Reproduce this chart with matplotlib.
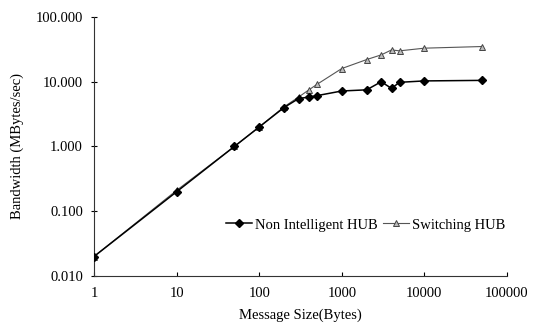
import matplotlib
matplotlib.use("Agg")
import matplotlib.pyplot as plt
from matplotlib.ticker import FixedLocator, FuncFormatter, NullLocator

msg_size = [1, 10, 50, 100, 200, 300, 400, 500, 1000, 2000, 3000, 4000, 5000, 10000, 50000]
non_intelligent = [0.02, 0.2, 1.0, 2.0, 4.0, 5.5, 5.8, 6.1, 7.2, 7.5, 10.0, 7.9, 9.8, 10.3, 10.5]
switching = [0.02, 0.21, 1.0, 2.0, 4.1, 5.8, 7.5, 9.1, 16, 22, 26, 31, 30, 33, 35]
x_ticks = [1, 10, 100, 1000, 10000, 100000]
y_ticks = [0.01, 0.1, 1, 10, 100]

plt.rcParams['font.family'] = ['Liberation Serif', 'DejaVu Serif']

fig = plt.figure(figsize=(5.39, 3.32), dpi=100)
ax = fig.add_axes([0.1744, 0.1687, 0.9406 - 0.1744, 0.9488 - 0.1687])

ax.plot(msg_size, non_intelligent, color='black', lw=1.1, marker='D', ms=4.5,
        mfc='black', mec='black', label='Non Intelligent HUB', zorder=3)
ax.plot(msg_size, switching, color='#555555', lw=0.8, ls='-', marker='^', ms=5,
        mfc='#bbbbbb', mec='#444444', mew=0.7, label='Switching HUB', zorder=2)

ax.set_xscale('log')
ax.set_yscale('log')
ax.set_xlim(1, 100000)
ax.set_ylim(0.01, 100)
ax.xaxis.set_major_locator(FixedLocator(x_ticks))
ax.yaxis.set_major_locator(FixedLocator(y_ticks))
ax.xaxis.set_minor_locator(NullLocator())
ax.yaxis.set_minor_locator(NullLocator())
ax.xaxis.set_major_formatter(FuncFormatter(lambda v, p: f"{v:.0f}"))
ax.yaxis.set_major_formatter(FuncFormatter(lambda v, p: f"{v:.3f}"))

for s in ['top', 'right']:
    ax.spines[s].set_visible(False)
for s in ['left', 'bottom']:
    ax.spines[s].set_linewidth(0.8)
    ax.spines[s].set_color('#333333')

ax.tick_params(axis='x', direction='in', length=3, width=0.8, labelsize=10.5, pad=8)
ax.tick_params(axis='y', direction='inout', length=4, width=0.8, labelsize=10.5, pad=6)

ax.set_xlabel('Message Size(Bytes)', fontsize=10.5, labelpad=6)
ax.set_ylabel('Bandwidth (MBytes/sec)', fontsize=10.5, labelpad=8)

ax.legend(loc='center left', bbox_to_anchor=(0.32, 0.197), ncol=2, frameon=False,
          fontsize=10.5, handlelength=1.8, handletextpad=0.15, columnspacing=0.4,
          borderaxespad=0, borderpad=0)

fig.savefig('out.png', dpi=100)
